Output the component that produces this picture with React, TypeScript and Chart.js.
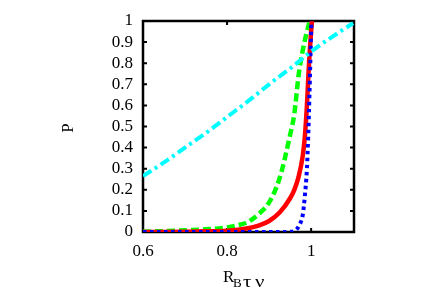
import React, { useEffect, useRef } from "react";
import { Chart, registerables } from "chart.js";

Chart.register(...registerables);

// Axis ranges and tick values
const xMin = 0.6;
const xMax = 1.102;
const xTicks = [0.6, 0.8, 1.0];
const yTicks = [0, 0.1, 0.2, 0.3, 0.4, 0.5, 0.6, 0.7, 0.8, 0.9, 1];

const yTitle = "P";
const xTitleMain = "R";
const xTitleSub = ["B", "τ", "ν"];

// Cyan dash-dot series
const cyanX = [0.6, 0.65, 0.7, 0.75, 0.8, 0.85, 0.9, 0.95, 1.0, 1.05, 1.1];
const cyanY = [0.265, 0.33, 0.4, 0.47, 0.545, 0.62, 0.7, 0.775, 0.855, 0.925, 0.99];

// Green dashed series
const greenX = [0.6, 0.65, 0.7, 0.75, 0.8, 0.825, 0.85, 0.875, 0.9, 0.925, 0.95, 0.96, 0.97, 0.98, 0.99, 0.997];
const greenY = [0.002, 0.004, 0.008, 0.013, 0.022, 0.032, 0.048, 0.085, 0.14, 0.255, 0.46, 0.56, 0.74, 0.86, 0.95, 1.0];

// Red solid series
const redX = [0.6, 0.7, 0.75, 0.8, 0.85, 0.875, 0.9, 0.925, 0.95, 0.96, 0.97, 0.98, 0.985, 0.99, 0.995, 1.0, 1.002];
const redY = [0.0, 0.001, 0.003, 0.006, 0.018, 0.03, 0.052, 0.092, 0.16, 0.2, 0.26, 0.36, 0.45, 0.6, 0.8, 0.95, 1.0];

// Blue dotted series
const blueX = [0.6, 0.7, 0.8, 0.9, 0.95, 0.96, 0.965, 0.97, 0.975, 0.98, 0.985, 0.99, 0.993, 0.996, 0.998, 1.0, 1.001];
const blueY = [0, 0, 0, 0, 0.001, 0.005, 0.012, 0.025, 0.045, 0.08, 0.17, 0.3, 0.45, 0.65, 0.8, 0.95, 1.0];

const pts = (xs: number[], ys: number[]) => xs.map((x, i) => ({ x, y: ys[i] }));

export default function App() {
  const ref = useRef<HTMLCanvasElement>(null);

  useEffect(() => {
    if (!ref.current) return;
    const serif = '"Liberation Serif", "Times New Roman", serif';

    const framePlugin = {
      id: "frame",
      beforeDatasetsDraw(chart: any) {
        const { ctx, chartArea: a, scales } = chart;
        ctx.save();
        ctx.strokeStyle = "#000";
        ctx.lineWidth = 2.5;
        ctx.strokeRect(a.left, a.top, a.right - a.left, a.bottom - a.top);
        ctx.lineWidth = 2;
        ctx.beginPath();
        for (const v of yTicks) {
          const y = scales.y.getPixelForValue(v);
          ctx.moveTo(a.left, y);
          ctx.lineTo(a.left + 4, y);
          ctx.moveTo(a.right, y);
          ctx.lineTo(a.right - 4, y);
        }
        for (const v of xTicks) {
          const x = scales.x.getPixelForValue(v);
          ctx.moveTo(x, a.bottom);
          ctx.lineTo(x, a.bottom - 4);
          ctx.moveTo(x, a.top);
          ctx.lineTo(x, a.top + 4);
        }
        ctx.stroke();
        ctx.restore();
      },
      afterDraw(chart: any) {
        const { ctx } = chart;
        ctx.save();
        ctx.fillStyle = "#000";
        ctx.textBaseline = "alphabetic";
        ctx.textAlign = "left";
        ctx.font = "17px " + serif;
        ctx.fillText(xTitleMain, 223, 282);
        const subX = [233, 243, 255];
        const subSize = [13, 16, 16];
        xTitleSub.forEach((c, i) => {
          ctx.font = subSize[i] + "px " + serif;
          ctx.save();
          ctx.translate(subX[i], 287);
          if (i > 0) ctx.scale(1.3, 1);
          ctx.fillText(c, 0, 0);
          ctx.restore();
        });
        ctx.translate(69, 128);
        ctx.rotate(-Math.PI / 2);
        ctx.textAlign = "center";
        ctx.textBaseline = "middle";
        ctx.font = "17px " + serif;
        ctx.fillText(yTitle, 0, 0);
        ctx.restore();
      },
    };

    const common = {
      pointRadius: 0,
      fill: false,
      cubicInterpolationMode: "monotone" as const,
    };

    const chart = new Chart(ref.current, {
      type: "line",
      data: {
        datasets: [
          {
            ...common,
            data: pts(cyanX, cyanY),
            borderColor: "#00ffff",
            borderWidth: 4,
            borderDash: [10, 4, 3, 4],
            order: 0,
          },
          {
            ...common,
            data: pts(blueX, blueY),
            borderColor: "#0000ff",
            borderWidth: 4,
            borderDash: [3.5, 3.5],
            order: 1,
          },
          {
            ...common,
            data: pts(redX, redY),
            borderColor: "#ff0000",
            borderWidth: 4.5,
            order: 2,
          },
          {
            ...common,
            data: pts(greenX, greenY),
            borderColor: "#00ff00",
            borderWidth: 4.5,
            borderDash: [8, 4],
            order: 3,
          },
        ],
      },
      options: {
        animation: false,
        responsive: false,
        devicePixelRatio: 1,
        layout: { padding: { left: 0, top: 21, right: 82, bottom: 0 } },
        plugins: { legend: { display: false }, tooltip: { enabled: false } },
        scales: {
          x: {
            type: "linear",
            min: xMin,
            max: xMax,
            grid: { display: false, drawTicks: false },
            border: { display: false },
            afterBuildTicks: (s: any) => {
              s.ticks = xTicks.map((v) => ({ value: v }));
            },
            afterFit: (s: any) => {
              s.height = 73;
            },
            ticks: {
              padding: 9,
              color: "#000",
              autoSkip: false,
              font: { family: serif, size: 17 },
              maxRotation: 0,
              callback: (v: any) => String(v),
            },
          },
          y: {
            type: "linear",
            min: 0,
            max: 1,
            grid: { display: false, drawTicks: false },
            border: { display: false },
            afterBuildTicks: (s: any) => {
              s.ticks = yTicks.map((v) => ({ value: v }));
            },
            afterFit: (s: any) => {
              s.width = 143;
            },
            ticks: {
              padding: 10,
              color: "#000",
              autoSkip: false,
              font: { family: serif, size: 17 },
              callback: (v: any) => String(v),
            },
          },
        },
      },
      plugins: [framePlugin],
    });

    return () => chart.destroy();
  }, []);

  return (
    <div style={{ position: "absolute", left: 0, top: 0, width: 436, height: 305, background: "#fff" }}>
      <canvas ref={ref} width={436} height={305} />
    </div>
  );
}
